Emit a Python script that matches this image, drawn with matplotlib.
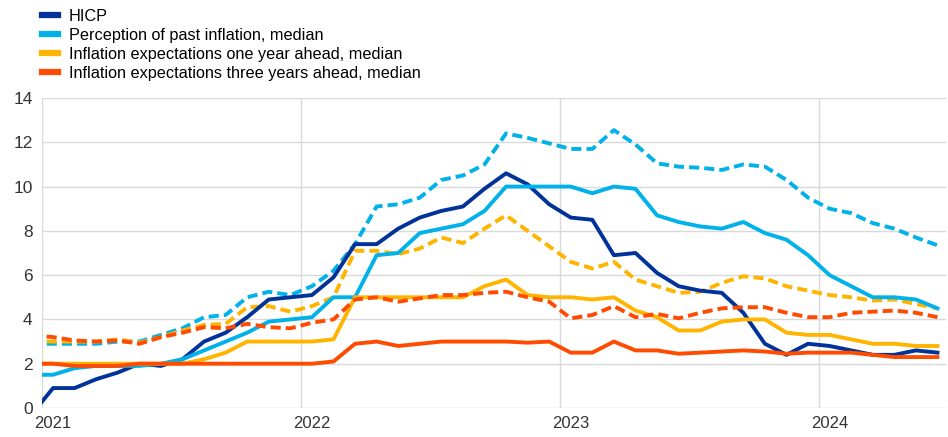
import numpy as np
import matplotlib
matplotlib.use("Agg")
import matplotlib.pyplot as plt
from matplotlib.lines import Line2D

plt.rcParams['font.family'] = ['Liberation Sans', 'DejaVu Sans']

# monthly data, Dec 2020 .. Jun 2024
start_month = -1  # Dec 2020 relative to Jan 2021
hicp = [-0.3,
        0.9, 0.9, 1.3, 1.6, 2.0, 1.9, 2.2, 3.0, 3.4, 4.1, 4.9, 5.0,
        5.1, 5.9, 7.4, 7.4, 8.1, 8.6, 8.9, 9.1, 9.9, 10.6, 10.1, 9.2,
        8.6, 8.5, 6.9, 7.0, 6.1, 5.5, 5.3, 5.2, 4.3, 2.9, 2.4, 2.9,
        2.8, 2.6, 2.4, 2.4, 2.6, 2.5]
past_median = [1.5,
               1.5, 1.8, 1.9, 1.9, 1.9, 2.0, 2.2, 2.6, 3.0, 3.4, 3.9, 4.0,
               4.1, 5.0, 5.0, 6.9, 7.0, 7.9, 8.1, 8.3, 8.9, 10.0, 10.0, 10.0,
               10.0, 9.7, 10.0, 9.9, 8.7, 8.4, 8.2, 8.1, 8.4, 7.9, 7.6, 6.9,
               6.0, 5.5, 5.0, 5.0, 4.9, 4.5]
one_year_median = [2.0,
                   2.0, 2.0, 2.0, 2.0, 2.0, 2.0, 2.0, 2.2, 2.5, 3.0, 3.0, 3.0,
                   3.0, 3.1, 5.0, 5.0, 5.0, 5.0, 5.0, 5.0, 5.5, 5.8, 5.1, 5.0,
                   5.0, 4.9, 5.0, 4.4, 4.1, 3.5, 3.5, 3.9, 4.0, 4.0, 3.4, 3.3,
                   3.3, 3.1, 2.9, 2.9, 2.8, 2.8]
three_year_median = [2.0,
                     2.0, 1.9, 1.9, 1.9, 2.0, 2.0, 2.0, 2.0, 2.0, 2.0, 2.0, 2.0,
                     2.0, 2.1, 2.9, 3.0, 2.8, 2.9, 3.0, 3.0, 3.0, 3.0, 2.95, 3.0,
                     2.5, 2.5, 3.0, 2.6, 2.6, 2.45, 2.5, 2.55, 2.6, 2.55, 2.45, 2.5,
                     2.5, 2.5, 2.4, 2.3, 2.3, 2.3]
past_mean = [2.9,
             2.9, 2.9, 2.9, 3.0, 3.0, 3.3, 3.6, 4.1, 4.2, 5.0, 5.25, 5.1,
             5.5, 6.2, 7.4, 9.1, 9.2, 9.5, 10.3, 10.5, 11.0, 12.4, 12.2, 11.95,
             11.7, 11.7, 12.55, 11.9, 11.05, 10.9, 10.85, 10.75, 11.0, 10.9, 10.3, 9.5,
             9.0, 8.8, 8.35, 8.1, 7.7, 7.35]
one_year_mean = [3.0,
                 3.0, 3.0, 3.0, 3.1, 2.95, 3.2, 3.5, 3.75, 3.8, 4.55, 4.6, 4.35,
                 4.6, 5.0, 7.1, 7.1, 6.95, 7.2, 7.7, 7.45, 8.1, 8.7, 8.0, 7.3,
                 6.6, 6.3, 6.6, 5.8, 5.5, 5.2, 5.25, 5.65, 5.95, 5.85, 5.5, 5.3,
                 5.1, 5.0, 4.85, 4.9, 4.7, 4.5]
three_year_mean = [3.3,
                   3.2, 3.05, 3.0, 3.05, 2.9, 3.2, 3.4, 3.65, 3.6, 3.8, 3.65, 3.6,
                   3.85, 4.0, 4.9, 5.0, 4.8, 4.95, 5.1, 5.1, 5.2, 5.25, 5.0, 4.8,
                   4.05, 4.2, 4.6, 4.1, 4.25, 4.05, 4.3, 4.5, 4.55, 4.55, 4.3, 4.1,
                   4.1, 4.3, 4.35, 4.4, 4.3, 4.1]

years = ['2021', '2022', '2023', '2024']
labels = ['HICP',
          'Perception of past inflation, median',
          'Inflation expectations one year ahead, median',
          'Inflation expectations three years ahead, median']

c_hicp = '#003299'
c_past = '#00b1ea'
c_one = '#ffb400'
c_three = '#ff4b00'

# x positions: middle of each month
x = np.arange(len(hicp)) + start_month + 0.5

fig = plt.figure(figsize=(9.48, 4.37), dpi=100)
ax = fig.add_axes([0.0446, 0.0664, 0.9534, 0.7093])

lw = 2.8
dash = (2.6, 1.3)
ax.plot(x, past_mean, color=c_past, lw=lw, dashes=dash)
ax.plot(x, one_year_mean, color=c_one, lw=lw, dashes=dash)
ax.plot(x, hicp, color=c_hicp, lw=lw)
ax.plot(x, past_median, color=c_past, lw=lw)
ax.plot(x, one_year_median, color=c_one, lw=lw)
ax.plot(x, three_year_median, color=c_three, lw=lw)
ax.plot(x, three_year_mean, color=c_three, lw=lw, dashes=dash)

ax.set_xlim(0, 41.9)
ax.set_ylim(0, 14)
ax.set_yticks(np.arange(0, 15, 2))
ax.set_xticks([0, 12, 24, 36])
ax.set_xticklabels([])
ax.set_xticks([0.5, 12.5, 24.5, 36.5], minor=True)
ax.set_xticklabels(years, minor=True)
ax.tick_params(axis='x', which='both', length=0, pad=6, labelsize=12, colors='#333333')
ax.tick_params(axis='y', length=0, pad=7, labelsize=12.5, colors='#333333')
ax.grid(True, which='major', color='#d9d9d9', lw=1)
ax.set_axisbelow(True)
for s in ax.spines.values():
    s.set_visible(False)

handles = [Line2D([], [], color=c, lw=4.5) for c in (c_hicp, c_past, c_one, c_three)]
fig.legend(handles, labels, loc='upper left', bbox_to_anchor=(0.044, 0.98),
           frameon=False, fontsize=11.7, handlelength=1.0, handletextpad=0.68,
           labelspacing=0.25, borderpad=0, borderaxespad=0)

fig.savefig('out.png', dpi=100)
